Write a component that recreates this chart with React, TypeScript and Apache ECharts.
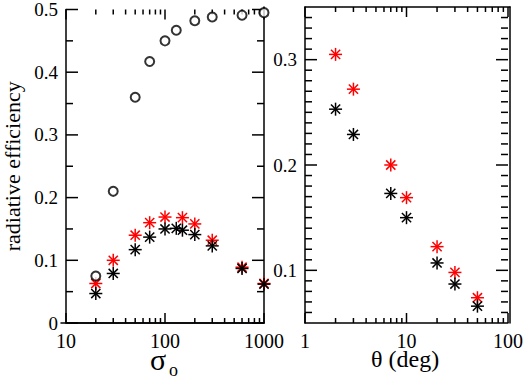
import React, { useEffect, useRef } from "react";
import * as echarts from "echarts";

// ---- data ----
const sigmaCircles: [number, number][] = [
  [20, 0.075], [30, 0.21], [50, 0.36], [70, 0.417], [100, 0.45],
  [130, 0.467], [200, 0.482], [300, 0.488], [600, 0.491], [1000, 0.495],
];
const sigmaRedStars: [number, number][] = [
  [20, 0.063], [30, 0.1], [50, 0.14], [70, 0.16], [100, 0.169],
  [150, 0.168], [200, 0.158], [300, 0.132], [600, 0.089], [1000, 0.063],
];
const sigmaBlackStars: [number, number][] = [
  [20, 0.047], [30, 0.079], [50, 0.117], [70, 0.137], [100, 0.15],
  [130, 0.151], [150, 0.148], [200, 0.141], [300, 0.123], [600, 0.087], [1000, 0.062],
];
const thetaRedStars: [number, number][] = [
  [2, 0.305], [3, 0.272], [7, 0.2], [10, 0.169], [20, 0.1225], [30, 0.098], [50, 0.074],
];
const thetaBlackStars: [number, number][] = [
  [2, 0.253], [3, 0.229], [7, 0.173], [10, 0.15], [20, 0.107], [30, 0.087], [50, 0.066],
];

// ---- axis ranges and ticks ----
const sigmaRange: [number, number] = [10, 1000];
const thetaRange: [number, number] = [1, 100];
const effLeftRange: [number, number] = [0, 0.5];
const effRightRange: [number, number] = [0.05, 0.35];
const sigmaMajor = [10, 100, 1000];
const sigmaMinor = [20, 30, 40, 50, 60, 70, 80, 90, 200, 300, 400, 500, 600, 700, 800, 900];
const thetaMajor = [1, 10, 100];
const thetaMinor = [2, 3, 4, 5, 6, 7, 8, 9, 20, 30, 40, 50, 60, 70, 80, 90];
const effLeftMajor = [0, 0.1, 0.2, 0.3, 0.4, 0.5];
const effLeftMinor = [0.05, 0.15, 0.25, 0.35, 0.45];
const effRightMajor = [0.1, 0.2, 0.3];
const effRightMinor = [
  0.06, 0.07, 0.08, 0.09, 0.11, 0.12, 0.13, 0.14, 0.15, 0.16, 0.17, 0.18, 0.19,
  0.21, 0.22, 0.23, 0.24, 0.25, 0.26, 0.27, 0.28, 0.29, 0.31, 0.32, 0.33, 0.34,
];

const FONT = "Liberation Serif";

function starSeries(data: [number, number][], color: string, xi: number, yi: number) {
  return {
    type: "custom", xAxisIndex: xi, yAxisIndex: yi, data,
    encode: { x: 0, y: 1 },
    renderItem: (params: any, api: any) => {
      const p = api.coord([api.value(0), api.value(1)]);
      const r = 6.5;
      const d = r * 0.7071;
      return {
        type: "group",
        children: [
          { type: "line", shape: { x1: p[0] - r, y1: p[1], x2: p[0] + r, y2: p[1] }, style: { stroke: color, lineWidth: 1.5 } },
          { type: "line", shape: { x1: p[0], y1: p[1] - r, x2: p[0], y2: p[1] + r }, style: { stroke: color, lineWidth: 1.5 } },
          { type: "line", shape: { x1: p[0] - d, y1: p[1] - d, x2: p[0] + d, y2: p[1] + d }, style: { stroke: color, lineWidth: 1.5 } },
          { type: "line", shape: { x1: p[0] - d, y1: p[1] + d, x2: p[0] + d, y2: p[1] - d }, style: { stroke: color, lineWidth: 1.5 } },
        ],
      };
    },
  };
}

// ticks on the bottom and top edges, placed through the x axis scale
function xTickSeries(values: number[], len: number, xi: number, yi: number, yr: [number, number]) {
  return {
    type: "custom", xAxisIndex: xi, yAxisIndex: yi,
    data: values.map((v) => [v, yr[0]]),
    encode: { x: 0, y: 1 },
    renderItem: (params: any, api: any) => {
      const v = api.value(0);
      const b = api.coord([v, yr[0]]);
      const t = api.coord([v, yr[1]]);
      return {
        type: "group",
        children: [
          { type: "line", shape: { x1: b[0], y1: b[1], x2: b[0], y2: b[1] - len }, style: { stroke: "#000", lineWidth: 1.5 } },
          { type: "line", shape: { x1: t[0], y1: t[1], x2: t[0], y2: t[1] + len }, style: { stroke: "#000", lineWidth: 1.5 } },
        ],
      };
    },
  };
}

// ticks on the left and right edges, placed through the y axis scale
function yTickSeries(values: number[], len: number, xi: number, yi: number, xr: [number, number]) {
  return {
    type: "custom", xAxisIndex: xi, yAxisIndex: yi,
    data: values.map((v) => [xr[0], v]),
    encode: { x: 0, y: 1 },
    renderItem: (params: any, api: any) => {
      const v = api.value(1);
      const l = api.coord([xr[0], v]);
      const r = api.coord([xr[1], v]);
      return {
        type: "group",
        children: [
          { type: "line", shape: { x1: l[0], y1: l[1], x2: l[0] + len, y2: l[1] }, style: { stroke: "#000", lineWidth: 1.5 } },
          { type: "line", shape: { x1: r[0], y1: r[1], x2: r[0] - len, y2: r[1] }, style: { stroke: "#000", lineWidth: 1.5 } },
        ],
      };
    },
  };
}

const hiddenSplit = () => ({ show: true, lineStyle: { color: "rgba(0,0,0,0)", width: 0 } });
const black = () => ({ color: "#000", width: 1.5 });

function logAxis(grid: number, range: [number, number], mirror: boolean) {
  const a: any = {
    type: "log", gridIndex: grid, min: range[0], max: range[1],
    splitLine: hiddenSplit(),
    axisLine: { show: true, lineStyle: black() },
    axisTick: { show: false },
    axisLabel: mirror
      ? { show: false }
      : { fontFamily: FONT, fontSize: 20, color: "#000", formatter: (v: number) => String(Math.round(v)) },
  };
  if (mirror) a.position = "top";
  return a;
}

function valAxis(grid: number, range: [number, number], interval: number, mirror: boolean, name?: string) {
  const a: any = {
    type: "value", gridIndex: grid, min: range[0], max: range[1], interval,
    splitLine: hiddenSplit(),
    axisLine: { show: true, lineStyle: black() },
    axisTick: { show: false },
    axisLabel: mirror
      ? { show: false }
      : {
          fontFamily: FONT, fontSize: 19, color: "#000",
          formatter: (v: number) => (Math.abs(v * 10 - Math.round(v * 10)) < 1e-6 ? String(+v.toFixed(1)) : ""),
        },
  };
  if (mirror) a.position = "right";
  if (name) {
    a.name = name;
    a.nameLocation = "middle";
    a.nameGap = 43;
    a.nameRotate = 90;
    a.nameTextStyle = { fontFamily: FONT, fontSize: 22, color: "#000" };
  }
  return a;
}

const titleStyle = (size: number) => ({ fontFamily: FONT, fontSize: size, fontWeight: "normal", color: "#000" });

export default function App() {
  const ref = useRef<HTMLDivElement>(null);
  useEffect(() => {
    document.body.style.margin = "0";
    const chart = echarts.init(ref.current!, null, { renderer: "svg" });
    const g0 = { left: 61, top: 7, width: 203, height: 316 };
    const g1 = { left: 305, top: 7, width: 205, height: 316 };
    const option: any = {
      animation: false,
      title: [
        { text: "σ", left: 150, top: 344, padding: 0, textStyle: titleStyle(30) },
        { text: "o", left: 169, top: 361, padding: 0, textStyle: titleStyle(18) },
        { text: "θ (deg)", left: 371, top: 347, padding: 0, textStyle: titleStyle(24) },
      ],
      grid: [g0, g1, { ...g0 }, { ...g1 }],
      xAxis: [
        logAxis(0, sigmaRange, false),
        logAxis(1, thetaRange, false),
        logAxis(2, sigmaRange, true),
        logAxis(3, thetaRange, true),
      ],
      yAxis: [
        valAxis(0, effLeftRange, 0.1, false, "radiative efficiency"),
        valAxis(1, effRightRange, 0.05, false),
        valAxis(2, effLeftRange, 0.1, true),
        valAxis(3, effRightRange, 0.05, true),
      ],
      series: [
        xTickSeries(sigmaMajor, 10, 0, 0, effLeftRange),
        xTickSeries(sigmaMinor, 5, 0, 0, effLeftRange),
        yTickSeries(effLeftMajor, 12, 0, 0, sigmaRange),
        yTickSeries(effLeftMinor, 7, 0, 0, sigmaRange),
        xTickSeries(thetaMajor, 10, 1, 1, effRightRange),
        xTickSeries(thetaMinor, 5, 1, 1, effRightRange),
        yTickSeries(effRightMajor, 12, 1, 1, thetaRange),
        yTickSeries(effRightMinor, 7, 1, 1, thetaRange),
        {
          type: "scatter", xAxisIndex: 0, yAxisIndex: 0, data: sigmaCircles,
          symbol: "emptyCircle", symbolSize: 9,
          itemStyle: { color: "#000", borderWidth: 1.2 },
        },
        starSeries(sigmaRedStars, "#ff0000", 0, 0),
        starSeries(sigmaBlackStars, "#000000", 0, 0),
        starSeries(thetaRedStars, "#ff0000", 1, 1),
        starSeries(thetaBlackStars, "#000000", 1, 1),
      ],
    };
    chart.setOption(option);
    return () => chart.dispose();
  }, []);
  return <div ref={ref} style={{ width: 526, height: 377 }} />;
}
